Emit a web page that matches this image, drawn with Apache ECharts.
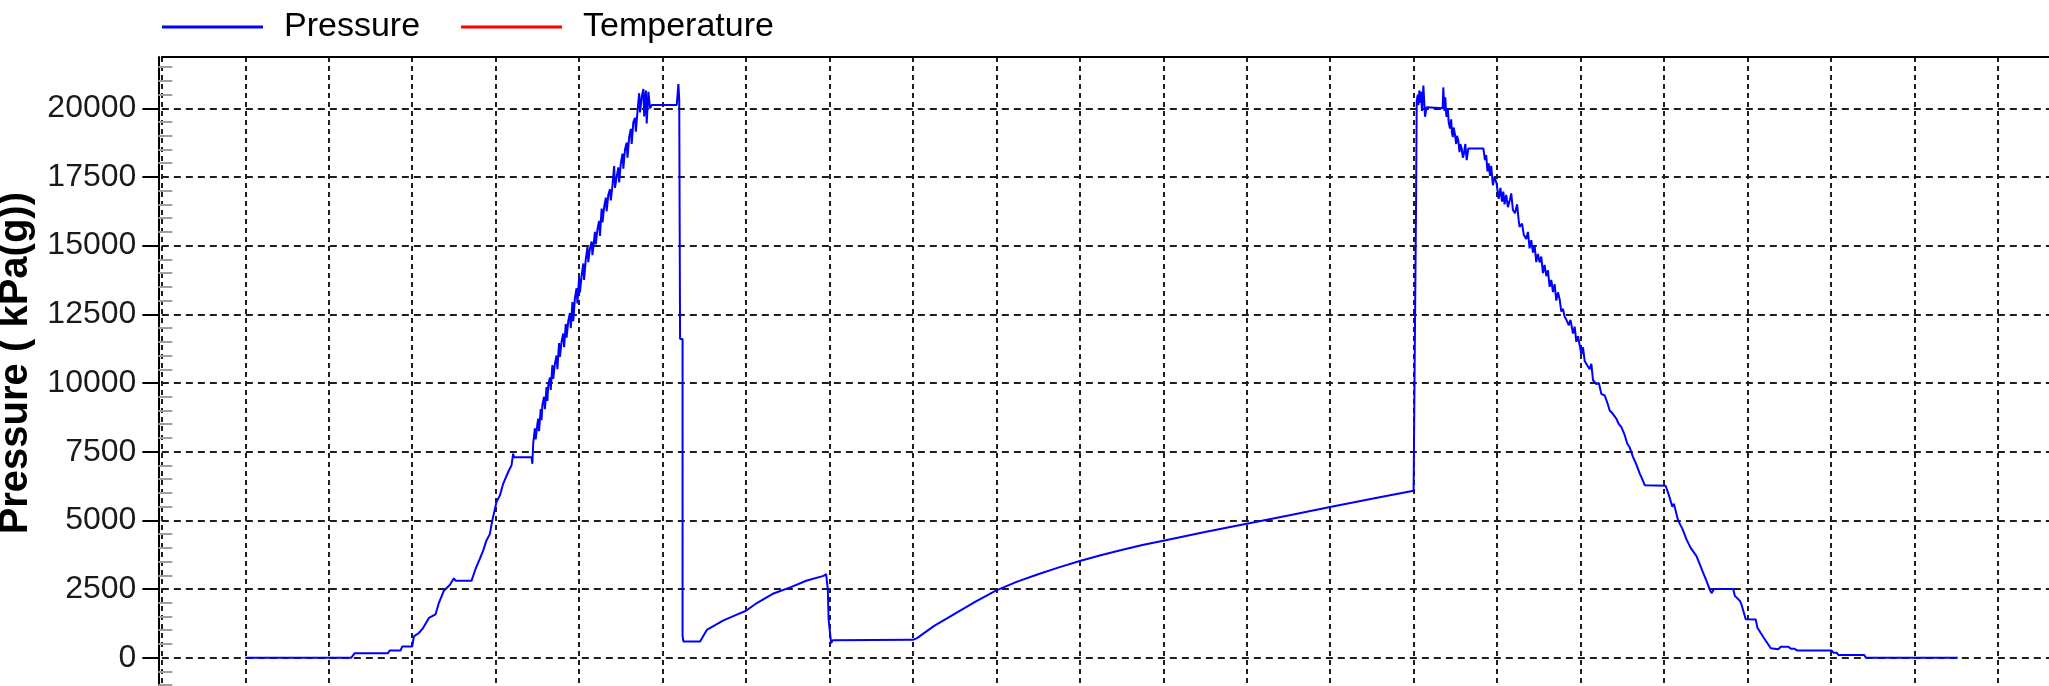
<!DOCTYPE html>
<html>
<head>
<meta charset="utf-8">
<title>Pressure</title>
<script src="https://cdn.jsdelivr.net/npm/echarts@6.0.0/dist/echarts.min.js"></script>
<style>
  html, body { margin: 0; padding: 0; background: #ffffff; }
  #chart { width: 2049px; height: 686px; }
</style>
</head>
<body>
<div id="chart"></div>
<script>
// Elapsed time (grid units) and gauge pressure, kPa(g)
const time = [
  // idle, first pressurisation
  1.00, 2.27, 2.31, 2.71, 2.73, 2.86, 2.88, 3.00, 3.02, 3.08, 3.13, 3.20, 3.28, 3.32, 3.38, 3.45,
  3.50, 3.52, 3.71, 3.76, 3.81, 3.85, 3.89, 3.93, 3.96, 4.01, 4.05, 4.09, 4.15, 4.19, 4.21, 4.22,
  4.43, 4.44, 4.45, 4.47, 4.48, 4.50, 4.51, 4.52, 4.54, 4.55, 4.56, 4.58, 4.59, 4.61, 4.62, 4.63,
  4.65, 4.66, 4.68, 4.69, 4.71, 4.73, 4.74, 4.76, 4.77, 4.79, 4.81, 4.82, 4.84, 4.85, 4.87, 4.89,
  4.90, 4.92, 4.93, 4.95, 4.97, 4.98, 5.00, 5.01, 5.03, 5.05, 5.06, 5.08, 5.10, 5.11, 5.13, 5.15,
  5.16, 5.19, 5.20, 5.22, 5.24, 5.25, 5.27, 5.28, 5.30, 5.32, 5.33, 5.35, 5.37, 5.38, 5.40, 5.42,
  5.43, 5.45, 5.47, 5.48, 5.50, 5.52, 5.53, 5.55, 5.57, 5.58, 5.60, 5.62, 5.63, 5.65, 5.67, 5.68,
  5.70, 5.72, 5.73, 5.75, 5.77, 5.78, 5.80, 5.81, 5.83, 5.85, 5.87, 6.17,
  // hold, vent, first recovery
  6.18, 6.19, 6.20, 6.21, 6.24, 6.24, 6.25, 6.45, 6.53, 6.73, 6.89, 7.00, 7.13, 7.33, 7.53, 7.73,
  7.93, 7.96, 7.98, 7.99, 8.02, 8.04, 9.00, 9.05, 9.25, 9.50, 9.75, 10.00, 10.25, 10.50, 10.75, 11.00,
  11.25, 11.50, 11.75, 12.00, 12.50, 13.00, 13.50, 14.00, 14.50, 15.00,
  // second pressurisation and stepped release
  15.01, 15.025, 15.03, 15.037, 15.05, 15.057, 15.07, 15.077, 15.09, 15.10, 15.11, 15.117, 15.13, 15.137, 15.157, 15.177,
  15.348, 15.356, 15.365, 15.37, 15.38, 15.39, 15.396, 15.41, 15.42, 15.436, 15.45, 15.46, 15.47, 15.48, 15.496, 15.51,
  15.52, 15.536, 15.55, 15.56, 15.576, 15.59, 15.60, 15.62, 15.636, 15.656, 15.836, 15.855, 15.87, 15.885, 15.90, 15.915,
  15.93, 15.95, 15.97, 15.995, 16.01, 16.02, 16.04, 16.06, 16.075, 16.09, 16.11, 16.13, 16.155, 16.17, 16.19, 16.215,
  16.24, 16.26, 16.27, 16.30, 16.32, 16.35, 16.37, 16.39, 16.41, 16.43, 16.45, 16.47, 16.49, 16.51, 16.53, 16.55,
  16.57, 16.59, 16.61, 16.63, 16.65, 16.67, 16.69, 16.71, 16.73, 16.75, 16.77, 16.79, 16.81, 16.83, 16.86, 16.88,
  16.91, 16.93, 16.95, 16.97, 17.01, 17.03, 17.05, 17.07, 17.11, 17.13, 17.15, 17.19, 17.22, 17.25, 17.29, 17.32,
  17.35, 17.39, 17.43, 17.46, 17.49, 17.53, 17.56, 17.59, 17.63, 17.67, 17.71, 17.74, 17.77,
  18.02, 18.05, 18.07, 18.10, 18.12, 18.17, 18.22, 18.27, 18.32, 18.39, 18.43, 18.47, 18.51, 18.55, 18.57, 18.60,
  18.83, 18.85, 18.91, 18.93, 18.98, 19.10, 19.12, 19.20, 19.28, 19.37, 19.40, 19.49, 19.52, 19.56, 19.60, 20.01,
  20.03, 20.07, 20.09, 20.40, 20.42, 21.52
];
const pressure = [
  0, 0, 160, 160, 260, 260, 406, 406, 780, 900, 1080, 1450, 1580, 2000, 2440, 2650,
  2890, 2800, 2800, 3240, 3600, 3900, 4270, 4500, 5000, 5670, 5900, 6330, 6760, 7000, 7430, 7300,
  7300, 7060, 7790, 8350, 7950, 8500, 8700, 8250, 9050, 8650, 9200, 9500, 9050, 9850, 9350, 9900,
  10200, 9750, 10650, 10150, 10700, 11000, 10500, 11450, 10950, 11500, 11800, 11300, 12150, 11650, 12250, 12550,
  12000, 12950, 12250, 13100, 13450, 12900, 13850, 13300, 13900, 14350, 13750, 14500, 14950, 14400, 14900, 15150,
  14650, 15500, 15050, 15600, 15900, 15350, 16350, 15850, 16400, 16750, 16250, 16850, 17050, 16650, 17200, 17900,
  17100, 17500, 17850, 17300, 18000, 18350, 17800, 18500, 18750, 18200, 18950, 19250, 18700, 19500, 19650, 19150,
  19900, 20550, 19850, 20400, 20700, 19700, 20650, 19450, 20600, 20000, 20120, 20120,
  20500, 20880, 20300, 11600, 11600, 800, 590, 590, 1010, 1360, 1570, 1710, 1990, 2340, 2560, 2810,
  2980, 3040, 2500, 1390, 530, 640, 650, 714, 1150, 1600, 2040, 2450, 2770, 3040, 3290, 3520,
  3730, 3920, 4100, 4260, 4580, 4880, 5180, 5490, 5790, 6080,
  9680, 9680, 16750, 20260, 20500, 20110, 20650, 20200, 20600, 19900, 20400, 20830, 20100, 19690, 20040, 20000,
  20000, 20760, 20150, 19900, 20400, 19800, 19690, 20000, 19500, 19260, 19600, 19100, 18950, 19300, 19040, 18700,
  19000, 18830, 18400, 18700, 18540, 18200, 18300, 18700, 18110, 18540, 18540, 18110, 18300, 17700, 18000, 17540,
  17900, 17200, 17500, 17260, 16900, 16700, 17100, 16600, 16970, 16500, 16850, 16400, 16680, 16900, 16300, 16180,
  16500, 15900, 15680, 15800, 15400, 15240, 15500, 14900, 15200, 14750, 15000, 14400, 14700, 14390, 14600, 14000,
  14300, 13890, 14100, 13500, 13750, 13310, 13600, 13000, 13300, 13050, 12600, 12700, 12410, 12310, 12100, 12300,
  11800, 12050, 11500, 11700, 11050, 11300, 10800, 10810, 10500, 10700, 10100, 9960, 10000, 9600, 9550, 9300,
  9000, 8870, 8700, 8500, 8390, 8100, 7800, 7650, 7300, 7030, 6700, 6500, 6280,
  6260, 6000, 5810, 5500, 5600, 4990, 4700, 4310, 4000, 3700, 3400, 3090, 2800, 2470, 2350, 2500,
  2500, 2250, 2070, 1930, 1400, 1390, 1090, 710, 345, 310, 400, 400, 330, 330, 260, 260,
  185, 185, 100, 100, 0, 0
];
// Temperature channel is listed in the legend; no samples recorded in this window
const temperature = [];

const yMajorStep = 2500;
const yMinorStep = 500;
const yMin = -2500;
const yMax = 21867;
const xMin = 0;
const xMax = 23.2;

// Minor tick positions between the labelled ticks
const minorTicks = [];
for (let v = yMin + yMinorStep; v < yMax; v += yMinorStep) {
  if (v % yMajorStep !== 0) minorTicks.push(v);
}

const pressureData = time.map((t, i) => [t, pressure[i]]);

const font = 'Liberation Sans, Arial, Helvetica, sans-serif';
const chart = echarts.init(document.getElementById('chart'), null, { renderer: 'canvas' });

chart.setOption({
  animation: false,
  backgroundColor: '#ffffff',
  legend: {
    left: 162,
    top: 10,
    padding: 0,
    itemWidth: 101,
    itemHeight: 3,
    itemGap: 41,
    icon: 'rect',
    textStyle: { fontFamily: font, fontSize: 34, color: '#000000', padding: [0, 0, 0, 16] },
    data: ['Pressure', 'Temperature']
  },
  grid: {
    left: 161.85, top: 57, width: (xMax - xMin) * 83.45, height: 669.4,
    containLabel: false, outerBoundsMode: 'none'
  },
  xAxis: [
    {
      type: 'value', position: 'bottom', min: xMin, max: xMax, interval: 1,
      axisLine: { show: false, onZero: false },
      axisTick: { show: false },
      axisLabel: { show: false },
      splitLine: { show: true, lineStyle: { color: '#1e1e1e', width: 2, type: [5, 4] } }
    },
    {
      type: 'value', position: 'top', min: xMin, max: xMax, interval: 1,
      axisLine: { show: true, onZero: false, lineStyle: { color: '#000000', width: 2 } },
      axisTick: { show: false },
      axisLabel: { show: false },
      splitLine: { show: false }
    }
  ],
  yAxis: [
    {
      type: 'value', position: 'left', offset: 3.5,
      min: yMin, max: yMax, interval: yMajorStep,
      name: 'Pressure ( kPa(g))',
      nameLocation: 'middle',
      nameRotate: 90,
      nameGap: 115,
      nameTextStyle: { fontFamily: font, fontSize: 40, fontWeight: 'bold', color: '#000000', padding: [0, 0, 0, 57] },
      axisLine: { show: true, onZero: false, lineStyle: { color: '#000000', width: 2 } },
      axisTick: { show: true, inside: false, length: 16, lineStyle: { color: '#000000', width: 2 } },
      axisLabel: {
        show: true, margin: 22, fontFamily: font, fontSize: 32, color: '#1a1a1a',
        showMaxLabel: false, showMinLabel: false,
        formatter: (v) => String(v)
      },
      splitLine: { show: true, lineStyle: { color: '#1e1e1e', width: 2, type: [7, 5] } }
    },
    {
      type: 'value', position: 'left', offset: 3.5,
      min: yMin, max: yMax, interval: yMinorStep,
      axisLine: { show: false, onZero: false },
      axisTick: { show: true, inside: true, length: 14, customValues: minorTicks, lineStyle: { color: '#a0a0a0', width: 2 } },
      axisLabel: { show: false },
      splitLine: { show: false }
    }
  ],
  series: [
    {
      name: 'Pressure', type: 'line', xAxisIndex: 0, yAxisIndex: 0,
      data: pressureData, showSymbol: false, symbol: 'none',
      color: '#0000ff',
      lineStyle: { color: '#0000ff', width: 2 },
      z: 5
    },
    {
      name: 'Temperature', type: 'line', xAxisIndex: 0, yAxisIndex: 0,
      data: temperature, showSymbol: false, symbol: 'none',
      color: '#ff0000',
      lineStyle: { color: '#ff0000', width: 2 }
    }
  ]
});
</script>
</body>
</html>
